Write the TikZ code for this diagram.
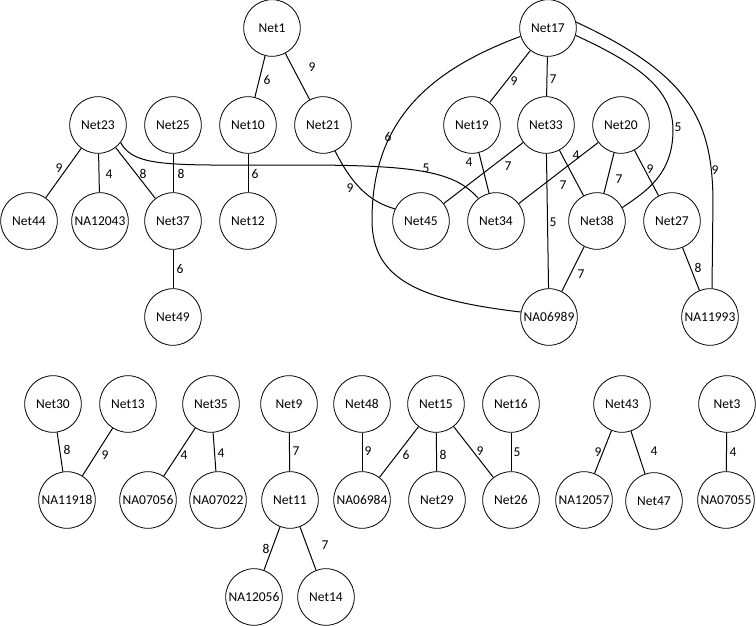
\documentclass[tikz,border=0pt]{standalone}
\usepackage{fontspec}
\setmainfont{Carlito}
\begin{document}
\begin{tikzpicture}[x=1pt,y=-1pt,
  nd/.style={circle,draw,line width=0.8pt,minimum size=56.6pt,inner sep=0pt,font=\fontsize{13.5}{15}\selectfont},
  lbl/.style={inner sep=0pt,font=\fontsize{13.5}{15}\selectfont},
  ed/.style={line width=1pt}]
\useasboundingbox (0,0) rectangle (756,626);
% top component nodes
\node[nd] (Net1) at (272,28) {Net1};
\node[nd] (Net17) at (548,28) {Net17};
\node[nd] (Net23) at (98,125) {Net23};
\node[nd] (Net25) at (173,125) {Net25};
\node[nd] (Net10) at (248,125) {Net10};
\node[nd] (Net21) at (323,125) {Net21};
\node[nd] (Net19) at (472,125) {Net19};
\node[nd] (Net33) at (546,125) {Net33};
\node[nd] (Net20) at (621,125) {Net20};
\node[nd] (Net44) at (29,221) {Net44};
\node[nd] (NA12043) at (100,221) {NA12043};
\node[nd] (Net37) at (173,221) {Net37};
\node[nd] (Net12) at (248,221) {Net12};
\node[nd] (Net45) at (421,221) {Net45};
\node[nd] (Net34) at (496,221) {Net34};
\node[nd] (Net38) at (597,221) {Net38};
\node[nd] (Net27) at (672,221) {Net27};
\node[nd] (Net49) at (173,317) {Net49};
\node[nd] (NA06989) at (549,317) {NA06989};
\node[nd] (NA11993) at (710,317) {NA11993};
% bottom nodes
\node[nd] (Net30) at (53,404) {Net30};
\node[nd] (Net13) at (128,404) {Net13};
\node[nd] (Net35) at (211,404) {Net35};
\node[nd] (Net9) at (289,404) {Net9};
\node[nd] (Net48) at (362,404) {Net48};
\node[nd] (Net15) at (436,404) {Net15};
\node[nd] (Net16) at (511,404) {Net16};
\node[nd] (Net43) at (622,404) {Net43};
\node[nd] (Net3) at (727,404) {Net3};
\node[nd] (NA11918) at (67,500) {NA11918};
\node[nd] (NA07056) at (148,500) {NA07056};
\node[nd] (NA07022) at (218,500) {NA07022};
\node[nd] (Net11) at (290,500) {Net11};
\node[nd] (NA06984) at (362,500) {NA06984};
\node[nd] (Net29) at (437,500) {Net29};
\node[nd] (Net26) at (511,500) {Net26};
\node[nd] (NA12057) at (584,500) {NA12057};
\node[nd] (Net47) at (654,501) {Net47};
\node[nd] (NA07055) at (726,500) {NA07055};
\node[nd] (NA12056) at (254,597) {NA12056};
\node[nd] (Net14) at (326,597) {Net14};
% straight edges
\draw[ed] (Net1) -- (Net10) node[lbl,at={(267,80)}] {6};
\draw[ed] (Net1) -- (Net21) node[lbl,at={(312,67)}] {9};
\draw[ed] (Net10) -- (Net12) node[lbl,at={(255,174)}] {6};
\draw[ed] (Net23) -- (Net44) node[lbl,at={(59,168)}] {9};
\draw[ed] (Net23) -- (NA12043) node[lbl,at={(109,174)}] {4};
\draw[ed] (Net23) -- (Net37) node[lbl,at={(143,174)}] {8};
\draw[ed] (Net25) -- (Net37) node[lbl,at={(181,174)}] {8};
\draw[ed] (Net37) -- (Net49) node[lbl,at={(180,269)}] {6};
\draw[ed] (Net17) -- (Net19) node[lbl,at={(514,81)}] {9};
\draw[ed] (Net17) -- (Net33) node[lbl,at={(553,79)}] {7};
\draw[ed] (Net19) -- (Net34) node[lbl,at={(469,162)}] {4};
\draw[ed] (Net33) -- (Net45) node[lbl,at={(508,166)}] {7};
\draw[ed] (Net33) -- (NA06989) node[lbl,at={(553,222)}] {5};
\draw[ed] (Net33) -- (Net38) node[lbl,at={(576,155)}] {4};
\draw[ed] (Net20) -- (Net34) node[lbl,at={(563,185)}] {7};
\draw[ed] (Net20) -- (Net38) node[lbl,at={(619,179)}] {7};
\draw[ed] (Net20) -- (Net27) node[lbl,at={(650,169)}] {9};
\draw[ed] (Net38) -- (NA06989) node[lbl,at={(581,274)}] {7};
\draw[ed] (Net27) -- (NA11993) node[lbl,at={(698,268)}] {8};
% curved edges
\draw[ed] (Net21.-65) .. controls (352,185) and (370,202) .. (Net45.155)
  node[lbl,at={(350,188)}] {9};
\draw[ed] (Net23.-38) .. controls (135,168) and (170,165) .. (300,165)
  .. controls (420,165) and (455,172) .. (Net34.128)
  node[lbl,at={(426,168)}] {5};
\draw[ed] (Net17.-163) .. controls (430,70) and (372,120) .. (372,220)
  .. controls (372,280) and (420,300) .. (NA06989.170)
  node[lbl,at={(388,137)}] {6};
\draw[ed] (Net17.-15) .. controls (640,65) and (673,90) .. (673,130)
  .. controls (673,175) and (645,192) .. (Net38.28)
  node[lbl,at={(678,127)}] {5};
\draw[ed] (Net17.12) .. controls (690,75) and (712,120) .. (713,200)
  -- (NA11993.86)
  node[lbl,at={(715,170)}] {9};
% bottom edges
\draw[ed] (Net30) -- (NA11918) node[lbl,at={(67,450)}] {8};
\draw[ed] (Net13) -- (NA11918) node[lbl,at={(105,455)}] {9};
\draw[ed] (Net35) -- (NA07056) node[lbl,at={(184,455)}] {4};
\draw[ed] (Net35) -- (NA07022) node[lbl,at={(221,453)}] {4};
\draw[ed] (Net9) -- (Net11) node[lbl,at={(296,451)}] {7};
\draw[ed] (Net48) -- (NA06984) node[lbl,at={(368,451)}] {9};
\draw[ed] (Net15) -- (NA06984) node[lbl,at={(406,455)}] {6};
\draw[ed] (Net15) -- (Net29) node[lbl,at={(443,455)}] {8};
\draw[ed] (Net15) -- (Net26) node[lbl,at={(480,451)}] {9};
\draw[ed] (Net16) -- (Net26) node[lbl,at={(517,452)}] {5};
\draw[ed] (Net11) -- (NA12056) node[lbl,at={(266,549)}] {8};
\draw[ed] (Net11) -- (Net14) node[lbl,at={(325,545)}] {7};
\draw[ed] (Net43) -- (NA12057) node[lbl,at={(598,452)}] {9};
\draw[ed] (Net43) -- (Net47) node[lbl,at={(654,451)}] {4};
\draw[ed] (Net3) -- (NA07055) node[lbl,at={(733,452)}] {4};
\end{tikzpicture}
\end{document}
